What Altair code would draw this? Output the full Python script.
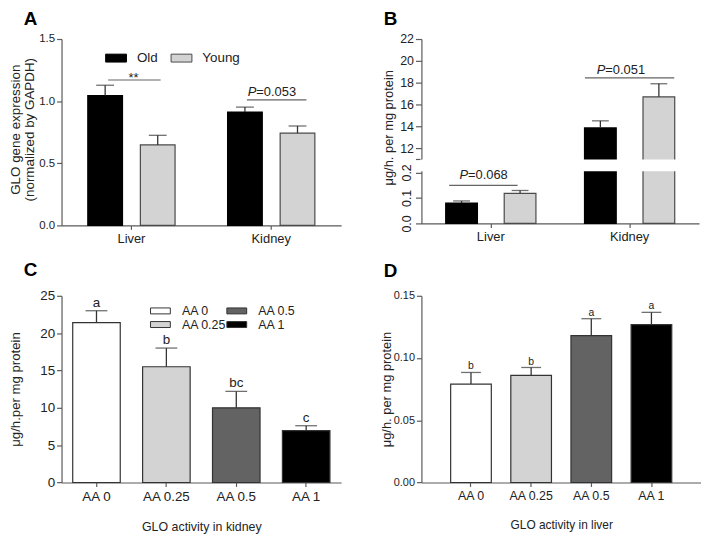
import altair as alt
import pandas as pd

FONT = "Liberation Sans"
INK = "#222222"
AXC = "#5a5a5a"

# ---------------- data ----------------
tissues = ["Liver", "Kidney"]
ages = ["Old", "Young"]
age_fill = ["#000000", "#d3d3d3"]
age_stroke = ["#000000", "#4a4a4a"]

# Panel A: GLO gene expression
a_old = [1.045, 0.912]
a_old_hi = [1.128, 0.952]
a_young = [0.648, 0.742]
a_young_hi = [0.725, 0.800]
a_sig_y = [1.17, 1.01]
a_sig = ["**", "P=0.053"]

# Panel B: GLO activity (broken axis)
b_old = [0.080, 13.85]
b_old_hi = [0.088, 14.5]
b_young = [0.118, 16.7]
b_young_hi = [0.129, 17.9]
b_sig_y = [0.149, 18.43]
b_sig = ["P=0.068", "P=0.051"]
b_break = [0.2, 11.05]

# Panels C and D
aa = ["AA 0", "AA 0.25", "AA 0.5", "AA 1"]
aa_fill = ["#ffffff", "#d3d3d3", "#636363", "#000000"]
c_mean = [21.4, 15.5, 10.0, 6.95]
c_hi = [23.0, 18.0, 12.2, 7.6]
c_let = ["a", "b", "bc", "c"]
d_mean = [0.0791, 0.0860, 0.1180, 0.1268]
d_hi = [0.0884, 0.0924, 0.1316, 0.1367]
d_let = ["b", "b", "a", "a"]

RECT_A = "M-1,-0.38L1,-0.38L1,0.38L-1,0.38Z"
RECT_C = "M-1.6,-0.48L1.6,-0.48L1.6,0.48L-1.6,0.48Z"


def age_frame(old, old_hi, young, young_hi):
    return pd.DataFrame({
        "tissue": tissues + tissues,
        "age": [ages[0]] * len(tissues) + [ages[1]] * len(tissues),
        "mean": old + young,
        "hi": old_hi + young_hi,
    })


def panel_title(letter, offset):
    return alt.TitleParams(letter, anchor="start", frame="group", dx=-38,
                           fontSize=19, fontWeight="bold", color="black",
                           offset=offset)


def sig_line(df, tissue, x_enc, y_enc, length, off):
    return (alt.Chart(df).transform_filter(alt.datum.tissue == tissue)
            .mark_tick(size=length, thickness=1.2, color=INK, xOffset=off)
            .encode(x=x_enc, y=y_enc))


def p_text(df, tissue, x_enc, y_enc, split_dx, dy):
    base = (alt.Chart(df).transform_filter(alt.datum.tissue == tissue)
            .transform_calculate(p="substring(datum.label, 0, 1)",
                                 rest="substring(datum.label, 1)"))
    t1 = base.mark_text(align="right", baseline="alphabetic", fontStyle="italic",
                        fontSize=13, dx=split_dx, dy=dy, color=INK).encode(
        x=x_enc, y=y_enc, text="p:N")
    t2 = base.mark_text(align="left", baseline="alphabetic", fontSize=13,
                        dx=split_dx, dy=dy, color=INK).encode(
        x=x_enc, y=y_enc, text="rest:N")
    return t1 + t2


# ---------------- Panel A ----------------
df_a = age_frame(a_old, a_old_hi, a_young, a_young_hi)
sig_a = pd.DataFrame({"tissue": tissues, "y": a_sig_y, "label": a_sig})

ysc_a = alt.Scale(domain=[0, 1.5], nice=False)
xa = alt.X("tissue:N", sort=tissues,
           scale=alt.Scale(type="band", paddingInner=0.248, paddingOuter=0.124),
           axis=alt.Axis(title=None, labelAngle=0, labelFontSize=13, tickSize=4,
                         labelPadding=3))
xoa = alt.XOffset("age:N", sort=ages,
                  scale=alt.Scale(type="band", paddingInner=0, paddingOuter=0))
yax_a = alt.Axis(values=[0, 0.5, 1.0, 1.5], format=".1f",
                 title=["GLO gene expression", "(normalized by GAPDH)"],
                 titleFontSize=13.5, titleLineHeight=14.5, titleX=-39.5, titleY=91,
                 titleBaseline="bottom", titleAlign="center", titleAngle=270,
                 labelFontSize=11.5, tickSize=5)

bars_a = alt.Chart(df_a).mark_bar(size=35, strokeWidth=1.2).encode(
    x=xa, xOffset=xoa,
    y=alt.Y("mean:Q", scale=ysc_a, axis=yax_a),
    fill=alt.Fill("age:N", sort=ages, scale=alt.Scale(domain=ages, range=age_fill),
                  legend=alt.Legend(title=None, orient="none", legendX=44, legendY=8,
                                    direction="horizontal", symbolType=RECT_A,
                                    symbolSize=441, symbolStrokeColor="#444444",
                                    symbolStrokeWidth=1, labelFontSize=13.5,
                                    labelColor=INK, labelOffset=10,
                                    columnPadding=10, padding=0)),
    stroke=alt.Stroke("age:N", sort=ages,
                      scale=alt.Scale(domain=ages, range=age_stroke), legend=None),
)
rule_a = alt.Chart(df_a).mark_rule(color="#333333", strokeWidth=1.3).encode(
    x=xa, xOffset=xoa, y=alt.Y("mean:Q", scale=ysc_a, axis=None), y2="hi:Q")
cap_a = alt.Chart(df_a).mark_tick(color="#333333", thickness=1.3, size=18).encode(
    x=xa, xOffset=xoa, y=alt.Y("hi:Q", scale=ysc_a, axis=None))
ysig_a = alt.Y("y:Q", scale=ysc_a, axis=None)
stars_a = (alt.Chart(sig_a).transform_filter(alt.datum.tissue == "Liver")
           .mark_text(fontSize=13, baseline="alphabetic", dx=2, dy=2, color=INK)
           .encode(x=xa, y=ysig_a, text="label:N"))
panel_a = alt.layer(
    bars_a, rule_a, cap_a,
    sig_line(sig_a, "Liver", xa, ysig_a, 53, 3),
    sig_line(sig_a, "Kidney", xa, ysig_a, 60, 5.5),
    stars_a,
    p_text(sig_a, "Kidney", xa, ysig_a, -15, -4),
).resolve_axis(y="independent").properties(width=282, height=188,
                                            title=panel_title("A", 4))

# ---------------- Panel B ----------------
df_b = age_frame(b_old, b_old_hi, b_young, b_young_hi)
sig_b = pd.DataFrame({"tissue": tissues, "y": b_sig_y, "label": b_sig})
inset = (b_break[1] - b_break[0]) / 14.0
gap_b = pd.DataFrame({"lo": [b_break[0] + inset], "hi": [b_break[1] - inset]})

ysc_b = alt.Scale(domain=[0, b_break[0], b_break[1], 22],
                  range=[186, 134.5, 120.5, 0], nice=False, zero=False)
xb = alt.X("tissue:N", sort=tissues,
           scale=alt.Scale(type="band", paddingInner=0.157, paddingOuter=0.0785),
           axis=alt.Axis(title=None, labelAngle=0, labelFontSize=13, tickSize=4,
                         labelPadding=3))
xob = alt.XOffset("age:N", sort=ages,
                  scale=alt.Scale(type="band", paddingInner=0, paddingOuter=0))
yax_b_top = alt.Axis(values=[b_break[1], 12, 14, 16, 18, 20, 22], orient="left",
                     labelExpr="datum.value < 11.5 ? '' : format(datum.value, 'd')",
                     title="μg/h. per mg protein", titleFontSize=13,
                     titleX=-26, titleY=89, titleBaseline="bottom",
                     titleAlign="center", titleAngle=270,
                     labelFontSize=12.5, tickSize=6)
yax_b_low = alt.Axis(values=[0, 0.1, 0.2], format=".1f", orient="left",
                     labelAngle=-90, labelFontSize=12.5, tickSize=6, domain=False,
                     title=None)

bars_b = alt.Chart(df_b).mark_bar(size=32, strokeWidth=1.2).encode(
    x=xb, xOffset=xob,
    y=alt.Y("mean:Q", scale=ysc_b, axis=yax_b_top),
    fill=alt.Fill("age:N", sort=ages, scale=alt.Scale(domain=ages, range=age_fill),
                  legend=None),
    stroke=alt.Stroke("age:N", sort=ages,
                      scale=alt.Scale(domain=ages, range=age_stroke), legend=None),
)
rule_b = alt.Chart(df_b).mark_rule(color="#333333", strokeWidth=1.3).encode(
    x=xb, xOffset=xob, y=alt.Y("mean:Q", scale=ysc_b, axis=yax_b_low), y2="hi:Q")
cap_b = alt.Chart(df_b).mark_tick(color="#333333", thickness=1.3, size=17).encode(
    x=xb, xOffset=xob, y=alt.Y("hi:Q", scale=ysc_b, axis=None))
mask_b = alt.Chart(gap_b).mark_rect(fill="white").encode(
    x=alt.value(-1.5), x2=alt.value(280),
    y=alt.Y("lo:Q", scale=ysc_b, axis=None), y2="hi:Q")
ysig_b = alt.Y("y:Q", scale=ysc_b, axis=None)
panel_b = alt.layer(
    bars_b, rule_b, cap_b, mask_b,
    sig_line(sig_b, "Liver", xb, ysig_b, 69, -7.5),
    sig_line(sig_b, "Kidney", xb, ysig_b, 90, 0),
    p_text(sig_b, "Liver", xb, ysig_b, -23, -6),
    p_text(sig_b, "Kidney", xb, ysig_b, -24.5, -4),
).resolve_axis(y="independent").properties(width=280, height=186,
                                            title=panel_title("B", 4))

# ---------------- Panel C ----------------
df_c = pd.DataFrame({"aa": aa, "mean": c_mean, "hi": c_hi, "let": c_let})
ysc_c = alt.Scale(domain=[0, 25], nice=False)
xc = alt.X("aa:N", sort=aa,
           scale=alt.Scale(type="band", paddingInner=0.32, paddingOuter=0.16),
           axis=alt.Axis(title="GLO activity in kidney", labelAngle=0,
                         labelFontSize=13.5, tickSize=4, labelPadding=3,
                         titleFontSize=12.5, titlePadding=18))
yax_c = alt.Axis(values=[0, 5, 10, 15, 20, 25], title="μg/h.per mg protein",
                 titleFontSize=13.3, titleX=-39.7, titleY=94,
                 titleBaseline="bottom", titleAlign="center", titleAngle=270,
                 labelFontSize=13.5, tickSize=5)
bars_c = alt.Chart(df_c).mark_bar(stroke="#333333", strokeWidth=1.2).encode(
    x=xc, y=alt.Y("mean:Q", scale=ysc_c, axis=yax_c),
    fill=alt.Fill("aa:N", sort=aa, scale=alt.Scale(domain=aa, range=aa_fill),
                  legend=alt.Legend(title=None, orient="none", legendX=92.75,
                                    legendY=8, columns=2, symbolType=RECT_C,
                                    symbolSize=156, symbolStrokeColor="#333333",
                                    symbolStrokeWidth=1, labelFontSize=12.5,
                                    labelColor=INK, labelOffset=14.7, rowPadding=0,
                                    columnPadding=-2, padding=0)),
)
rule_c = alt.Chart(df_c).mark_rule(color="#333333", strokeWidth=1.3).encode(
    x=xc, y=alt.Y("mean:Q", scale=ysc_c, axis=None), y2="hi:Q")
cap_c = alt.Chart(df_c).mark_tick(color="#333333", thickness=1.3, size=22).encode(
    x=xc, y=alt.Y("hi:Q", scale=ysc_c, axis=None))
let_c = alt.Chart(df_c).mark_text(fontSize=13.5, baseline="alphabetic", dy=-4,
                                  color=INK).encode(
    x=xc, y=alt.Y("hi:Q", scale=ysc_c, axis=None), text="let:N")
panel_c = alt.layer(bars_c, rule_c, cap_c, let_c).resolve_axis(
    y="independent").properties(width=282, height=188.3, title=panel_title("C", 9))

# ---------------- Panel D ----------------
df_d = pd.DataFrame({"aa": aa, "mean": d_mean, "hi": d_hi, "let": d_let})
ysc_d = alt.Scale(domain=[0, 0.15], nice=False)
xd = alt.X("aa:N", sort=aa,
           scale=alt.Scale(type="band", paddingInner=0.324, paddingOuter=0.486),
           axis=alt.Axis(title="GLO activity in liver", labelAngle=0,
                         labelFontSize=12.5, tickSize=4, labelPadding=3,
                         titleFontSize=12, titlePadding=18))
yax_d = alt.Axis(values=[0, 0.05, 0.10, 0.15], format=".2f",
                 title="μg/h. per mg protein", titleFontSize=13,
                 titleX=-28.5, titleY=94, titleBaseline="bottom",
                 titleAlign="center", titleAngle=270,
                 labelFontSize=11, tickSize=5)
bars_d = alt.Chart(df_d).mark_bar(stroke="#333333", strokeWidth=1.2).encode(
    x=xd, y=alt.Y("mean:Q", scale=ysc_d, axis=yax_d),
    fill=alt.Fill("aa:N", sort=aa, scale=alt.Scale(domain=aa, range=aa_fill),
                  legend=None),
)
rule_d = alt.Chart(df_d).mark_rule(color="#333333", strokeWidth=1.3).encode(
    x=xd, y=alt.Y("mean:Q", scale=ysc_d, axis=None), y2="hi:Q")
cap_d = alt.Chart(df_d).mark_tick(color="#333333", thickness=1.3, size=20).encode(
    x=xd, y=alt.Y("hi:Q", scale=ysc_d, axis=None))
let_d = alt.Chart(df_d).mark_text(fontSize=10.5, baseline="alphabetic", dy=-3,
                                  color=INK).encode(
    x=xd, y=alt.Y("hi:Q", scale=ysc_d, axis=None), text="let:N")
panel_d = alt.layer(bars_d, rule_d, cap_d, let_d).resolve_axis(
    y="independent").properties(width=282, height=188.3, title=panel_title("D", 9))

chart = alt.concat(
    panel_a, panel_b, panel_c, panel_d, columns=2,
    spacing={"row": 70, "column": 81}, bounds="flush", align="all",
).resolve_scale(
    fill="independent", stroke="independent", xOffset="independent"
).resolve_legend(
    fill="independent", stroke="independent"
).properties(padding=0).configure(font=FONT).configure_view(stroke=None).configure_axis(
    domainColor=AXC, tickColor=AXC, labelColor=INK, titleColor=INK,
    titleFontWeight="normal", grid=False, domainWidth=1.2, tickWidth=1.2,
    labelFont=FONT, titleFont=FONT,
)

chart.save("out.html", embed_options={"renderer": "svg", "actions": False})
